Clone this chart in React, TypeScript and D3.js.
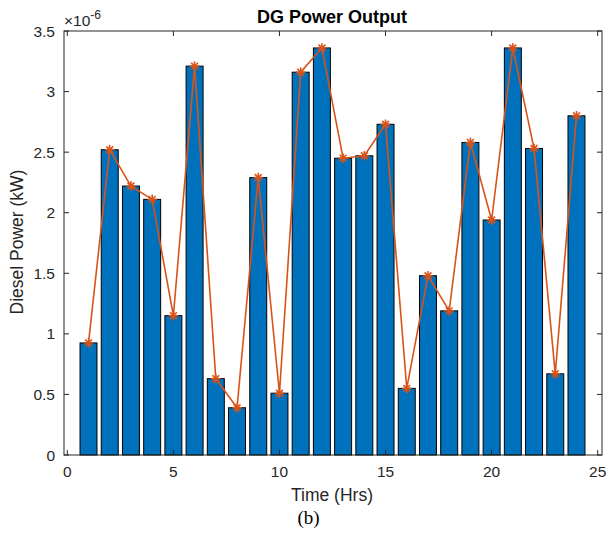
import React from "react";
import * as d3 from "d3";

const hours = [1,2,3,4,5,6,7,8,9,10,11,12,13,14,15,16,17,18,19,20,21,22,23,24];
const power = [0.925,2.52,2.22,2.11,1.15,3.21,0.63,0.39,2.29,0.51,3.16,3.36,2.45,2.47,2.73,0.55,1.48,1.19,2.58,1.94,3.36,2.53,0.67,2.80];
const xTicks = [0,5,10,15,20,25];
const yTicks = [0,0.5,1,1.5,2,2.5,3,3.5];

const W = 608, H = 540;
const boxL = 64, boxR = 602, boxT = 31, boxB = 455;

export default function App() {
  const x = d3.scaleLinear().domain([0, 25]).range([67.3, 597.7]);
  const y = d3.scaleLinear().domain([0, 3.5]).range([boxB, boxT]);
  const bw = x(0.8) - x(0);
  const line = d3.line<number>().x((d, i) => x(hours[i])).y(d => y(d));
  const font = "'Liberation Sans', Arial, Helvetica, sans-serif";
  const star = (cx: number, cy: number, k: number) => {
    const r = 4.8;
    const a = r * Math.SQRT1_2;
    return (
      <g key={k} stroke="#D95319" strokeWidth={1.6}>
        <line x1={cx - r} y1={cy} x2={cx + r} y2={cy} />
        <line x1={cx} y1={cy - r} x2={cx} y2={cy + r} />
        <line x1={cx - a} y1={cy - a} x2={cx + a} y2={cy + a} />
        <line x1={cx - a} y1={cy + a} x2={cx + a} y2={cy - a} />
      </g>
    );
  };
  return (
    <svg width={W} height={H} style={{ position: "absolute", left: 0, top: 0 }} fontFamily={font}>
      <rect x={0} y={0} width={W} height={H} fill="#fff" />
      {hours.map((h, i) => (
        <rect key={h} x={x(h) - bw / 2} y={y(power[i])} width={bw} height={y(0) - y(power[i])}
          fill="#0072BD" stroke="#000" strokeWidth={1} />
      ))}
      <path d={line(power) || ""} fill="none" stroke="#D95319" strokeWidth={1.6} />
      {power.map((v, i) => star(x(hours[i]), y(v), i))}
      <rect x={boxL} y={boxT} width={boxR - boxL} height={boxB - boxT} fill="none" stroke="#262626" strokeWidth={1} />
      {xTicks.map(t => (
        <g key={"x" + t}>
          <line x1={x(t)} x2={x(t)} y1={boxB} y2={boxB - 5} stroke="#262626" />
          <line x1={x(t)} x2={x(t)} y1={boxT} y2={boxT + 5} stroke="#262626" />
          <text x={x(t)} y={477} textAnchor="middle" fontSize={15.5} fill="#262626">{t}</text>
        </g>
      ))}
      {yTicks.map(t => (
        <g key={"y" + t}>
          <line x1={boxL} x2={boxL + 5} y1={y(t)} y2={y(t)} stroke="#262626" />
          <line x1={boxR} x2={boxR - 5} y1={y(t)} y2={y(t)} stroke="#262626" />
          <text x={55} y={y(t) + 5.6} textAnchor="end" fontSize={15.5} fill="#262626">{t}</text>
        </g>
      ))}
      <text x={64} y={26} fontSize={15.5} fill="#262626">×10<tspan dy={-7} fontSize={12}>-6</tspan></text>
      <text x={332} y={22.7} textAnchor="middle" fontSize={18} fontWeight="bold" fill="#000">DG Power Output</text>
      <text x={332} y={501} textAnchor="middle" fontSize={17.5} fill="#262626">Time (Hrs)</text>
      <text transform={`translate(22.5,242) rotate(-90)`} textAnchor="middle" fontSize={17.5} fill="#262626">Diesel Power (kW)</text>
      <text x={308.5} y={524} textAnchor="middle" fontSize={19} fontFamily="'Liberation Serif', 'Times New Roman', serif" fill="#000">(b)</text>
    </svg>
  );
}
